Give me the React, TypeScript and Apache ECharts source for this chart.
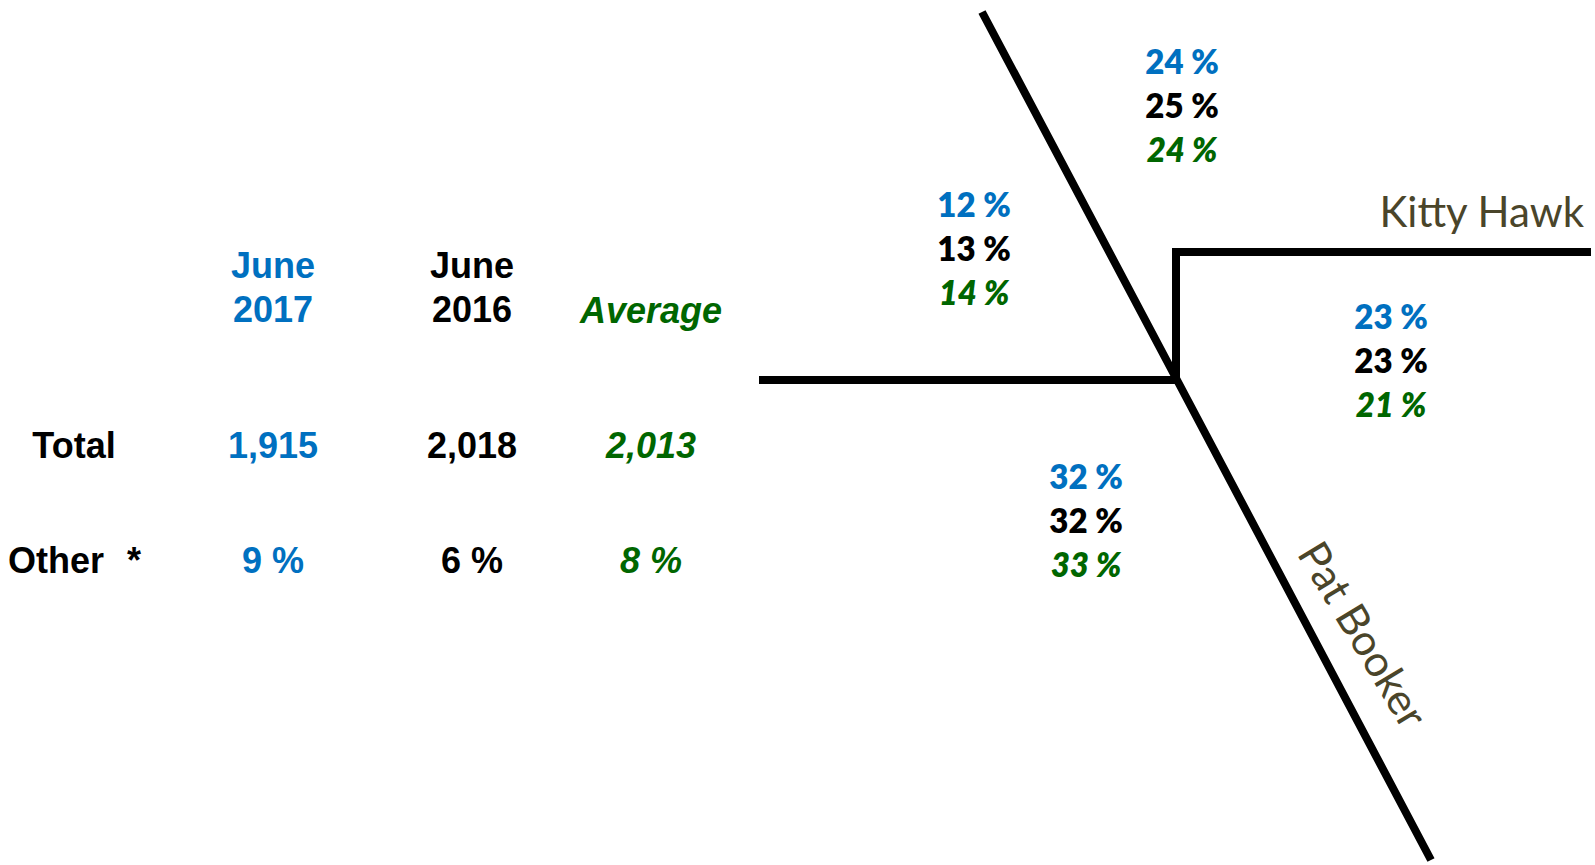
import React, { useEffect, useRef } from "react";
import * as echarts from "echarts";

// ---- data ----
const periodHeaders: string[][] = [["June", "2017"], ["June", "2016"], ["Average"]];
const rowLabels = ["Total", "Other"];
const totals = [1915, 2018, 2013];
const otherShare = [9, 6, 8];
// zones: top, left, right, bottom
const zoneNames = ["top", "left", "right", "bottom"];
const june2017 = [24, 12, 23, 32];
const june2016 = [25, 13, 23, 32];
const averageShare = [24, 14, 21, 33];
const areaLabels = ["Kitty Hawk", "Pat Booker"];

// ---- styles / layout ----
const BLUE = "#0070C0";
const BLACK = "#000000";
const GREEN = "#006600";
const OLIVE = "#4A452A";
const seriesColors = [BLUE, BLACK, GREEN];
const seriesItalic = [false, false, true];

const colX = [273, 472, 651];
const zonePos: Record<string, [number, number]> = {
  top: [1182, 61],
  left: [974, 204],
  right: [1391, 316],
  bottom: [1086, 476],
};

const ARIAL = "'Liberation Sans', Arial, sans-serif";
const LATO = "Lato, 'Open Sans', sans-serif";

function txt(text: string, x: number, y: number, o: any = {}) {
  return {
    type: "text",
    x,
    y,
    rotation: o.rotation || 0,
    silent: true,
    style: {
      text,
      x: 0,
      y: 0,
      fill: o.fill || BLACK,
      font: `${o.italic ? "italic " : ""}${o.weight || "bold"} ${o.size || 36}px ${o.family || ARIAL}`,
      textAlign: o.align || "center",
      textVerticalAlign: "middle",
      verticalAlign: "middle",
    },
  };
}

export default function App() {
  const ref = useRef<HTMLDivElement>(null);
  useEffect(() => {
    if (!ref.current) return;
    const chart = echarts.init(ref.current, undefined, { renderer: "svg" });
    const els: any[] = [];

    // header
    periodHeaders.forEach((lines, i) => {
      if (lines.length === 2) {
        els.push(txt(lines[0], colX[i], 265, { fill: seriesColors[i], italic: seriesItalic[i] }));
        els.push(txt(lines[1], colX[i], 309, { fill: seriesColors[i], italic: seriesItalic[i] }));
      } else {
        els.push(txt(lines[0], colX[i], 310, { fill: seriesColors[i], italic: seriesItalic[i] }));
      }
    });
    // rows
    els.push(txt(rowLabels[0], 74, 445));
    els.push(txt(rowLabels[1], 8, 560, { align: "left" }));
    els.push(txt("*", 134, 560));
    totals.forEach((v, i) =>
      els.push(txt(v.toLocaleString("en-US"), colX[i], 445, { fill: seriesColors[i], italic: seriesItalic[i] }))
    );
    otherShare.forEach((v, i) =>
      els.push(txt(`${v} %`, colX[i], 560, { fill: seriesColors[i], italic: seriesItalic[i] }))
    );

    // diagram lines
    const lineStyle = { stroke: "#000", lineWidth: 8, lineJoin: "miter", lineCap: "butt", fill: null };
    els.push({ type: "polyline", silent: true, shape: { points: [[982, 12], [1177, 380], [1431, 860]] }, style: lineStyle });
    els.push({ type: "polyline", silent: true, shape: { points: [[759, 380], [1177, 380]] }, style: lineStyle });
    els.push({ type: "polyline", silent: true, shape: { points: [[1176, 380], [1176, 252], [1591, 252]] }, style: lineStyle });

    // zone percentages
    const sets = [june2017, june2016, averageShare];
    zoneNames.forEach((z, zi) => {
      const [x, y] = zonePos[z];
      sets.forEach((arr, si) => {
        els.push(
          txt(`${arr[zi]} %`, x, y + si * 44, {
            fill: seriesColors[si],
            italic: seriesItalic[si],
            size: 33,
            weight: 800,
            family: LATO,
          })
        );
      });
    });

    // area labels
    els.push(txt(areaLabels[0], 1584, 211, { align: "right", weight: "normal", size: 42, family: LATO, fill: OLIVE }));
    els.push(
      txt(areaLabels[1], 1364, 634, {
        weight: "normal",
        size: 43,
        family: LATO,
        fill: OLIVE,
        rotation: (-59 * Math.PI) / 180,
      })
    );

    chart.setOption({
      animation: false,
      backgroundColor: "#ffffff",
      graphic: { elements: els },
    });
    return () => chart.dispose();
  }, []);
  return (
    <div
      ref={ref}
      style={{ position: "fixed", left: 0, top: 0, width: 1595, height: 865, background: "#fff" }}
    />
  );
}
